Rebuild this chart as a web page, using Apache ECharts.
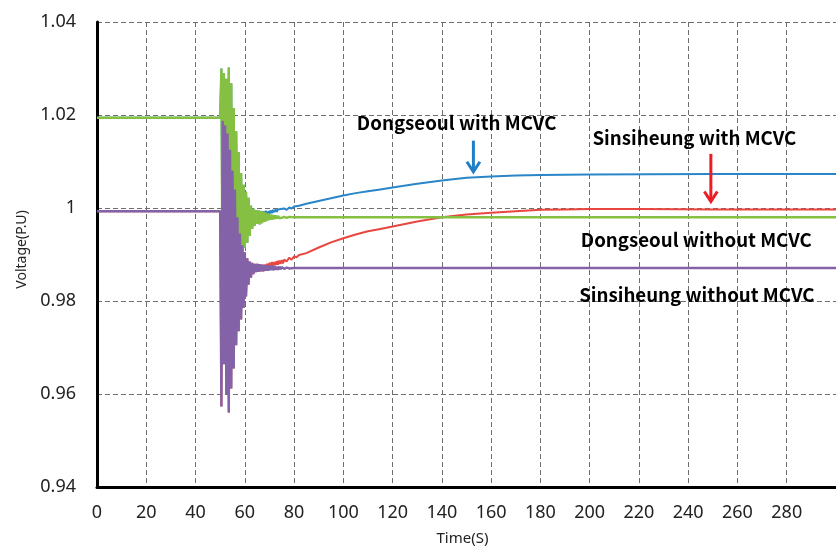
<!DOCTYPE html>
<html>
<head>
<meta charset="utf-8">
<script src="https://cdn.jsdelivr.net/npm/echarts@6/dist/echarts.min.js"></script>
<style>html,body{margin:0;padding:0;background:#fff;}#c{width:836px;height:551px;}</style>
</head>
<body>
<div id="c"></div>
<script>
// ---- data ----
const xTicks = [0,20,40,60,80,100,120,140,160,180,200,220,240,260,280,300];
const yTicks = [0.94,0.96,0.98,1.0,1.02,1.04];

const tPre = [0, 50];
const greenPre = [1.0194, 1.0194];
const purplePre = [0.9993, 0.9993];

const tOsc = [50,50.5,51,51.5,52,52.5,53,53.5,54,54.5,55,55.5,56,56.5,57,57.5,58,58.5,59,59.5,
  60,60.5,61,61.5,62,62.5,63,63.5,64,64.5,65,65.5,66,66.5,67,67.5,68,68.5,69,69.5,
  70,70.5,71,71.5,72,72.5,73,73.5,74,74.5,75];
const greenOsc = [1.0194,1.0300,0.9760,1.0290,0.9720,1.0278,0.9740,1.0302,0.9780,1.0268,
  0.9810,1.0215,0.9840,1.0165,0.9870,1.0120,0.9890,1.0075,0.9905,1.0050,
  0.9915,1.0035,0.9925,1.0022,0.9940,1.0005,0.9955,0.9998,0.9962,0.9995,
  0.9966,0.9995,0.9965,0.9994,0.9967,0.9992,0.9970,0.9990,0.9972,0.9988,
  0.9974,0.9986,0.9975,0.9985,0.9976,0.9984,0.9977,0.9983,0.9978,0.9982,0.9979];
const purpleOsc = [0.9993,0.9573,1.0187,0.9664,1.0178,0.9600,1.0160,0.9560,1.0125,0.9612,
  1.0080,0.9655,1.0040,0.9705,0.9980,0.9735,0.9945,0.9760,0.9920,0.9785,
  0.9905,0.9810,0.9892,0.9835,0.9885,0.9850,0.9882,0.9858,0.9880,0.9862,
  0.9880,0.9863,0.9879,0.9864,0.9878,0.9864,0.9878,0.9865,0.9877,0.9865,
  0.9876,0.9866,0.9876,0.9866,0.9875,0.9867,0.9874,0.9867,0.9874,0.9868,0.9873];

const tGreenTail = [76, 77, 78, 80, 300];
const greenTail = [0.9981, 0.9979, 0.9981, 0.9980, 0.9980];
const tPurpleTail = [76, 77, 78, 80, 300];
const purpleTail = [0.9869, 0.9872, 0.9870, 0.9871, 0.9871];

// Dongseoul with MCVC leaves the "without" curve at about t = 66 s
const blueSplitT = 66;
const tBlueTail = [66.5,67,67.5,68,68.5,69,69.5,70,70.5,71,71.5,72,72.5,73,73.5,74,74.5,75,76,77,78,79,80,
  82,85,90,95,100,105,110,115,120,130,140,150,160,170,180,200,250,300];
const blueTail = [0.9990,0.9982,0.9993,0.9984,0.9994,0.9986,0.9993,0.9987,0.9995,0.9989,0.9996,0.9991,0.9997,
  0.9992,0.9997,0.9993,0.9998,0.9994,0.9999,0.9996,1.0001,0.9999,1.0003,
  1.0005,1.0009,1.0015,1.0021,1.0027,1.0032,1.0036,1.0040,1.0044,1.0052,1.0059,1.0065,1.0068,1.0070,1.0071,1.0072,1.0073,1.0073];

// Sinsiheung with MCVC leaves the "without" curve at about t = 68 s
const redSplitT = 68;
const tRedTail = [68.5,69,69.5,70,70.5,71,71.5,72,72.5,73,73.5,74,74.5,75,75.5,76,77,78,79,80,81,82,
  85,90,95,100,105,110,115,120,130,140,150,160,170,180,190,200,220,250,300];
const redTail = [0.9868,0.9880,0.9872,0.9882,0.9874,0.9884,0.9876,0.9884,0.9877,0.9886,0.9878,0.9887,0.9880,
  0.9888,0.9881,0.9889,0.9885,0.9893,0.9889,0.9896,0.9894,0.9899,
  0.9903,0.9915,0.9926,0.9935,0.9943,0.9950,0.9955,0.9960,0.9971,0.9980,0.9986,0.9990,0.9993,0.9996,0.9997,0.9998,0.9998,0.9997,0.9997];

// annotations (data coordinates)
const labelTexts = ['Dongseoul with MCVC','Sinsiheung with MCVC','Dongseoul without MCVC','Sinsiheung without MCVC'];
const labelX = [146.0, 242.5, 243.3, 243.5];
const labelY = [1.01825, 1.01505, 0.99309, 0.98136];
const arrowX = [152.8, 249.2];
const arrowTop = [1.01448, 1.01164];
const arrowBottom = [1.0078, 1.00141];
const arrowColors = ['#1f7ec4', '#ee1c25'];

// ---- build series data ----
function zip(ts, vs) { return ts.map((t, i) => [t, vs[i]]); }
const greenData = zip(tPre, greenPre).concat(zip(tOsc, greenOsc), zip(tGreenTail, greenTail));
const purpleData = zip(tPre, purplePre).concat(zip(tOsc, purpleOsc), zip(tPurpleTail, purpleTail));
const blueData = zip(tPre, greenPre).concat(zip(tOsc, greenOsc).filter(p => p[0] <= blueSplitT), zip(tBlueTail, blueTail));
const redData = zip(tPre, purplePre).concat(zip(tOsc, purpleOsc).filter(p => p[0] <= redSplitT), zip(tRedTail, redTail));

const chart = echarts.init(document.getElementById('c'), null, {renderer: 'canvas'});
const FONT = 'Noto Sans';
const gridDash = {color: '#6e6e6e', width: 1, type: [5, 3]};

function mkLine(name, data, color, w) {
  return {name, type: 'line', data, showSymbol: false, symbol: 'none', smooth: false,
    lineStyle: {color, width: w}, itemStyle: {color}, clip: true, animation: false};
}

chart.setOption({
  animation: false,
  backgroundColor: '#fff',
  grid: {left: 97, top: 22, width: 752, height: 469},
  xAxis: {
    type: 'value', min: xTicks[0], max: xTicks[xTicks.length - 1], interval: 20,
    name: 'Time(S)', nameLocation: 'middle', nameGap: 44,
    nameTextStyle: {fontFamily: FONT, fontSize: 15, color: '#222', padding: [0, 8, 0, 0]},
    axisLine: {show: true, onZero: false, lineStyle: {color: '#000', width: 3}},
    axisTick: {show: false},
    axisLabel: {fontFamily: FONT, fontSize: 18, color: '#222', margin: 17, showMaxLabel: false},
    splitLine: {show: true, lineStyle: gridDash}
  },
  yAxis: {
    type: 'value', min: yTicks[0], max: yTicks[yTicks.length - 1], interval: 0.02,
    name: 'Voltage(P.U)', nameLocation: 'middle', nameGap: 67, nameRotate: 90,
    nameTextStyle: {fontFamily: FONT, fontSize: 14, color: '#222', padding: [0, 0, 0, 10]},
    axisLine: {show: true, onZero: false, lineStyle: {color: '#000', width: 3}},
    axisTick: {show: false},
    axisLabel: {fontFamily: FONT, fontSize: 18, color: '#222', margin: 21},
    splitLine: {show: true, lineStyle: gridDash}
  },
  series: [
    mkLine('Dongseoul with MCVC', blueData, '#2a86c8', 2),
    mkLine('Sinsiheung with MCVC', redData, '#e8463f', 2),
    mkLine('Dongseoul without MCVC', greenData, '#86c043', 2.4),
    mkLine('Sinsiheung without MCVC', purpleData, '#8462a8', 2.4)
  ]
});

const g = [];
labelTexts.forEach((txt, i) => {
  const p = chart.convertToPixel({gridIndex: 0}, [labelX[i], labelY[i]]);
  g.push({type: 'text', x: p[0], y: p[1], z: 100,
    style: {text: txt, fontFamily: 'Noto Sans CJK KR', fontWeight: 'bold', fontSize: 18.7,
      fill: '#000', align: 'center', verticalAlign: 'middle'}});
});
arrowX.forEach((ax, i) => {
  const a = chart.convertToPixel({gridIndex: 0}, [ax, arrowTop[i]]);
  const b = chart.convertToPixel({gridIndex: 0}, [ax, arrowBottom[i]]);
  g.push({type: 'line', z: 100, shape: {x1: a[0], y1: a[1], x2: b[0], y2: b[1] - 1},
    style: {stroke: arrowColors[i], lineWidth: 3}});
  g.push({type: 'polyline', z: 100, shape: {points: [[b[0] - 6.5, b[1] - 10], [b[0], b[1]], [b[0] + 6.5, b[1] - 10]]},
    style: {stroke: arrowColors[i], lineWidth: 3, fill: null, lineJoin: 'miter'}});
});
chart.setOption({graphic: g});
</script>
</body>
</html>
